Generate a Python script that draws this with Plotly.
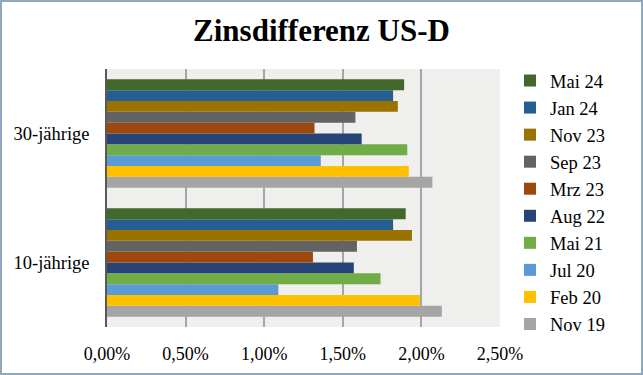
import plotly.graph_objects as go

categories = ["10-jährige", "30-jährige"]
series_names = ["Nov 19", "Feb 20", "Jul 20", "Mai 21", "Aug 22",
                "Mrz 23", "Sep 23", "Nov 23", "Jan 24", "Mai 24"]
# values in percent: [10-jährige, 30-jährige]
nov19 = [2.13, 2.07]
feb20 = [1.99, 1.92]
jul20 = [1.09, 1.36]
mai21 = [1.74, 1.91]
aug22 = [1.57, 1.62]
mrz23 = [1.31, 1.32]
sep23 = [1.59, 1.58]
nov23 = [1.94, 1.85]
jan24 = [1.82, 1.82]
mai24 = [1.90, 1.89]
series_values = [nov19, feb20, jul20, mai21, aug22, mrz23, sep23, nov23, jan24, mai24]
colors = ["#a5a5a5", "#ffc000", "#5b9bd5", "#70ad47", "#264478",
          "#9e480e", "#636363", "#997300", "#255e91", "#43682b"]
x_ticks = [0, 0.5, 1.0, 1.5, 2.0, 2.5]
x_ticktext = [f"{v:.2f}%".replace(".", ",") for v in x_ticks]

W, H = 643, 375
L, R, T, B = 107, 143, 69, 48

fig = go.Figure()
for name, vals, col in zip(series_names, series_values, colors):
    fig.add_trace(go.Bar(y=categories, x=vals, name=name, orientation="h",
                         marker=dict(color=col, line=dict(width=0))))

serif = "Liberation Serif"
pw = W - L - R
ph = H - T - B
fig.update_layout(
    width=W, height=H,
    margin=dict(l=L, r=R, t=T, b=B, autoexpand=False),
    paper_bgcolor="white",
    plot_bgcolor="#efefed",
    barmode="group", bargap=0.16, bargroupgap=0,
    font=dict(family=serif, color="#000000"),
    title=dict(text="<b>Zinsdifferenz US-D</b>", x=0.5, xref="container",
               y=1 - 30 / H, yref="container", yanchor="middle", xanchor="center",
               font=dict(family=serif, size=31, color="#000000")),
    xaxis=dict(range=[0, 2.5], tickvals=x_ticks, ticktext=x_ticktext,
               showgrid=True, gridcolor="#a6a6a6", gridwidth=1.5,
               zeroline=False, showline=False, ticks="",
               ticklabelstandoff=14,
               tickfont=dict(family=serif, size=18, color="#000000")),
    yaxis=dict(showgrid=False, zeroline=False, showline=True, linecolor="#595959",
               linewidth=1.5, ticks="", ticklabelstandoff=12,
               tickfont=dict(family=serif, size=18.5, color="#000000")),
    legend=dict(traceorder="reversed", x=(510 - L) / pw, xanchor="left",
                y=(T + ph - 62) / ph, yanchor="top", maxheight=330,
                font=dict(family=serif, size=18.5, color="#000000"),
                bgcolor="rgba(0,0,0,0)", itemwidth=30),
    showlegend=True,
)
# outer frame
fig.add_shape(type="rect", xref="paper", yref="paper",
              x0=(1 - L) / pw, x1=(W - 1 - L) / pw,
              y0=(T + ph - (H - 1)) / ph, y1=(T + ph - 1) / ph,
              line=dict(color="#8fa8bf", width=2), fillcolor="rgba(0,0,0,0)", layer="above")

fig.write_html("out.html", config={"displayModeBar": False},
               post_script="document.body.style.margin='0px';document.body.style.overflow='hidden';")
